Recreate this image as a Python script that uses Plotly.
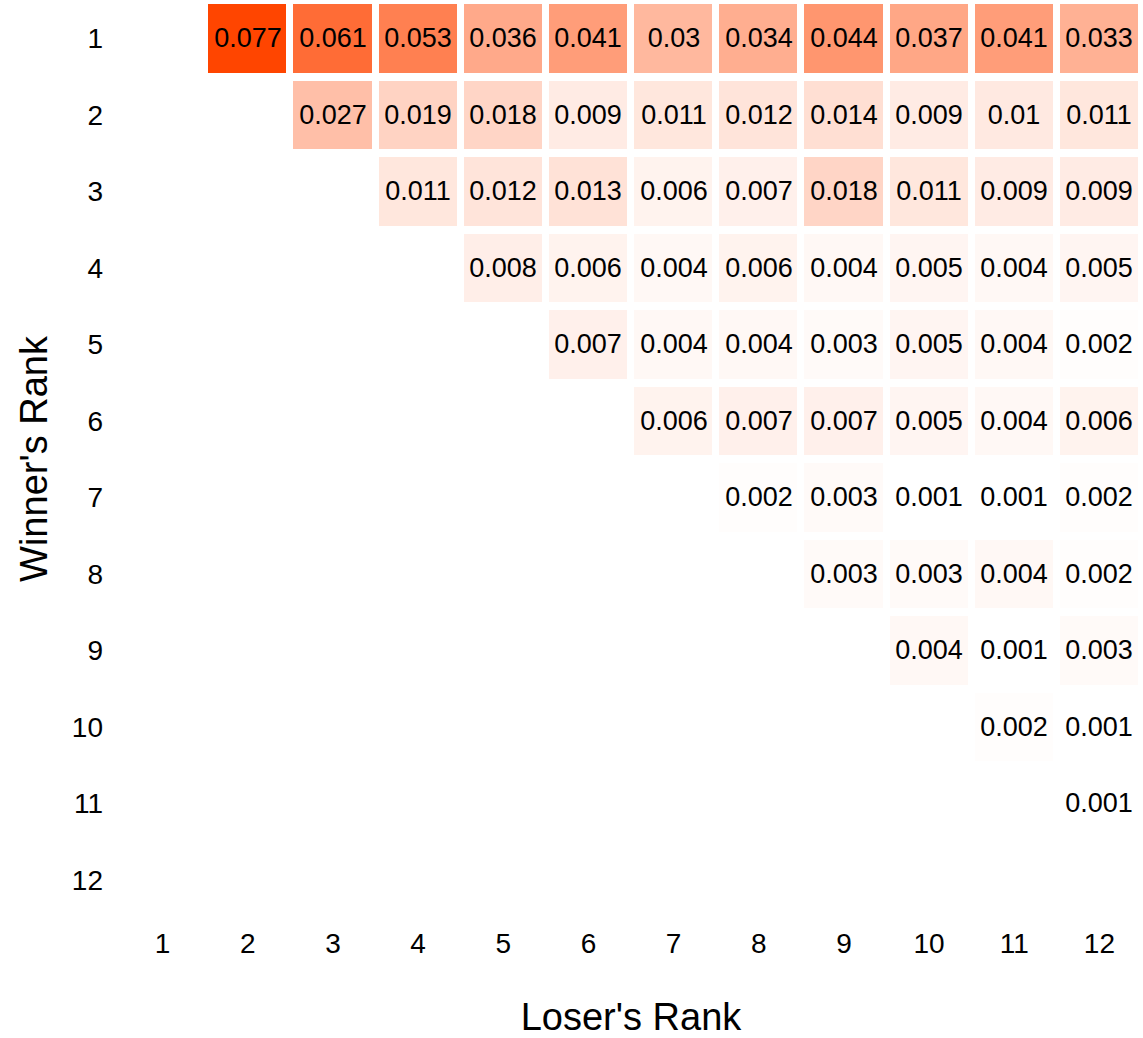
import plotly.graph_objects as go

ranks = list(range(1, 13))
tick_labels = [str(r) for r in ranks]

# Win probability values by winner's rank (row), losers' ranks from winner+1 to 12
row1 = [0.077, 0.061, 0.053, 0.036, 0.041, 0.03, 0.034, 0.044, 0.037, 0.041, 0.033]
row2 = [0.027, 0.019, 0.018, 0.009, 0.011, 0.012, 0.014, 0.009, 0.01, 0.011]
row3 = [0.011, 0.012, 0.013, 0.006, 0.007, 0.018, 0.011, 0.009, 0.009]
row4 = [0.008, 0.006, 0.004, 0.006, 0.004, 0.005, 0.004, 0.005]
row5 = [0.007, 0.004, 0.004, 0.003, 0.005, 0.004, 0.002]
row6 = [0.006, 0.007, 0.007, 0.005, 0.004, 0.006]
row7 = [0.002, 0.003, 0.001, 0.001, 0.002]
row8 = [0.003, 0.003, 0.004, 0.002]
row9 = [0.004, 0.001, 0.003]
row10 = [0.002, 0.001]
row11 = [0.001]
row12 = []

rows = [row1, row2, row3, row4, row5, row6, row7, row8, row9, row10, row11, row12]

z = []
for vals in rows:
    pad = 12 - len(vals)
    z.append([None] * pad + vals)

font_family = "Liberation Sans, Arial, sans-serif"

fig = go.Figure(
    go.Heatmap(
        x=ranks,
        y=ranks,
        z=z,
        colorscale=[[0, "#FFFFFF"], [1, "#FF4500"]],
        zmin=0.001,
        zmax=0.077,
        xgap=7,
        ygap=8,
        showscale=False,
        texttemplate="%{z}",
        textfont=dict(size=27, color="black", family=font_family),
        hoverongaps=False,
    )
)

fig.update_layout(
    width=1143,
    height=1038,
    paper_bgcolor="white",
    plot_bgcolor="white",
    margin=dict(l=120, r=1, t=0, b=120),
    font=dict(family=font_family, color="black"),
    xaxis=dict(
        range=[0.5, 12.5],
        tickmode="array",
        tickvals=ranks,
        ticktext=tick_labels,
        showgrid=False,
        zeroline=False,
        showline=False,
        ticks="",
        tickfont=dict(size=28),
        ticklabelstandoff=6,
        title=dict(text="Loser's Rank", font=dict(size=38), standoff=45),
    ),
    yaxis=dict(
        range=[12.5, 0.5],
        tickmode="array",
        tickvals=ranks,
        ticktext=tick_labels,
        showgrid=False,
        zeroline=False,
        showline=False,
        ticks="",
        tickfont=dict(size=28),
        ticklabelstandoff=16,
        title=dict(text="Winner's Rank", font=dict(size=38), standoff=12),
    ),
)

fig.write_html(
    "out.html",
    config={"displayModeBar": False},
    post_script="document.body.style.margin='0';document.body.style.overflow='hidden';",
)
